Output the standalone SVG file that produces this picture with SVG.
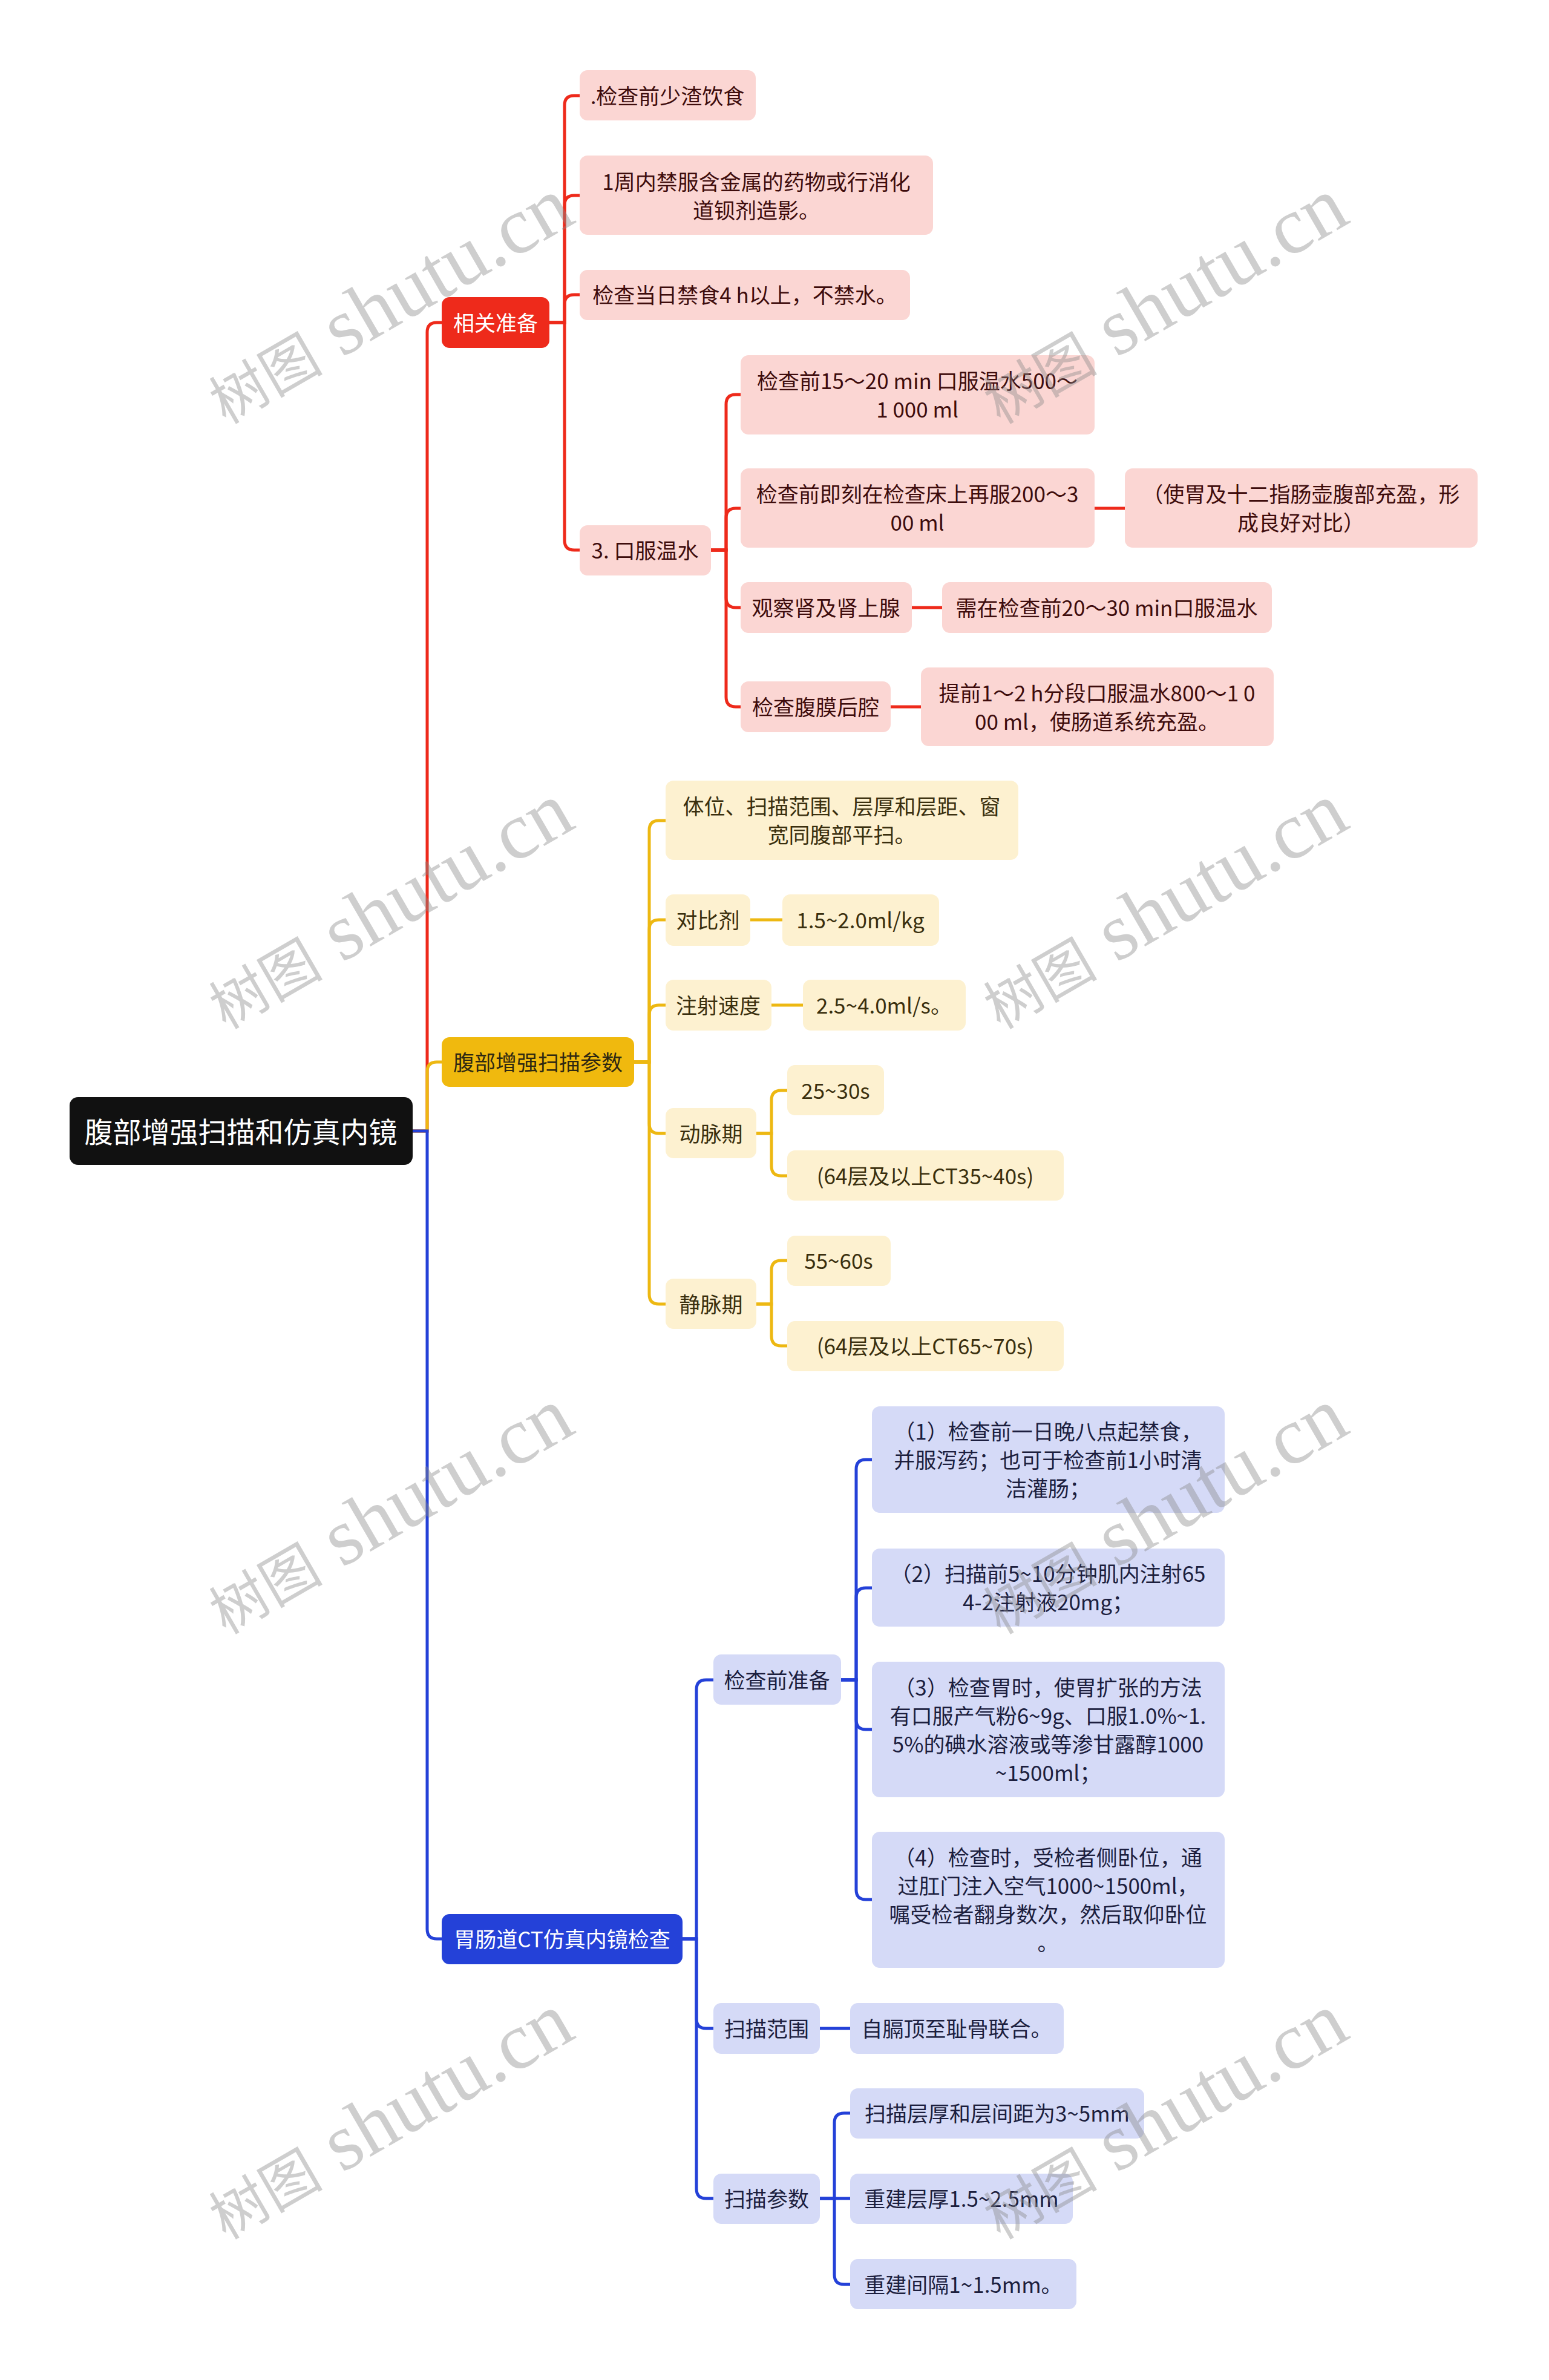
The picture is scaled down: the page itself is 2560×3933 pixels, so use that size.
<svg xmlns="http://www.w3.org/2000/svg" width="2560" height="3933" viewBox="0 0 2560 3933">
<style>
  text { font-family: "Noto Sans CJK SC", "Noto Sans", "Liberation Sans", sans-serif; font-size: 35px; text-anchor: middle; dominant-baseline: central; }
  .root rect { fill: #111111; }
  .root text { fill: #ffffff; font-size: 47px; }
  .r1 rect { fill: #EE2A1B; }
  .r1 text { fill: #ffffff; }
  .r2 rect { fill: #FBD6D3; }
  .r2 text { fill: #3E0C0C; }
  .y1 rect { fill: #F0B90E; }
  .y1 text { fill: #2E2812; }
  .y2 rect { fill: #FDF1D0; }
  .y2 text { fill: #3A2F0E; }
  .b1 rect { fill: #2441D8; }
  .b1 text { fill: #ffffff; }
  .b2 rect { fill: #D5DAF7; }
  .b2 text { fill: #1C1E3E; }
  .lr { fill: none; stroke: #EE2A1B; stroke-width: 5; }
  .ly { fill: none; stroke: #EDB812; stroke-width: 5; }
  .lb { fill: none; stroke: #2441D8; stroke-width: 5; }
  .wm { font-family: "Liberation Serif", "Noto Sans CJK SC", serif; fill: #8a8a8a; fill-opacity: 0.42; text-anchor: start; dominant-baseline: alphabetic; }
  .wm .cj { font-family: "Noto Sans CJK SC", sans-serif; font-size: 94px; }
  .wm .la { font-size: 134px; }
</style>
<rect width="2560" height="3933" fill="#ffffff"/>

<g id="connectors">
  <g>
    <path class="lr" d="M682,1869 H706 V549 Q706,533 722,533 H730"/>
    <path class="lr" d="M908,533 H933 V174 Q933,158 949,158 H958"/>
    <path class="lr" d="M908,533 H933 V339 Q933,323 949,323 H958"/>
    <path class="lr" d="M908,533 H933 V503 Q933,487 949,487 H958"/>
    <path class="lr" d="M908,533 H933 V893 Q933,909 949,909 H958"/>
    <path class="lr" d="M1175,909 H1200 V668 Q1200,652 1216,652 H1224"/>
    <path class="lr" d="M1175,909 H1200 V856 Q1200,840 1216,840 H1224"/>
    <path class="lr" d="M1175,909 H1200 V988 Q1200,1004 1216,1004 H1224"/>
    <path class="lr" d="M1175,909 H1200 V1152 Q1200,1168 1216,1168 H1224"/>
    <path class="lr" d="M1809,840 H1859"/>
    <path class="lr" d="M1507,1004 H1557"/>
    <path class="lr" d="M1472,1168 H1522"/>
  </g>
  <g>
    <path class="ly" d="M682,1869 H706 V1771 Q706,1755 722,1755 H730"/>
    <path class="ly" d="M1048,1755 H1073 V1372 Q1073,1356 1089,1356 H1100"/>
    <path class="ly" d="M1048,1755 H1073 V1536 Q1073,1520 1089,1520 H1100"/>
    <path class="ly" d="M1048,1755 H1073 V1677 Q1073,1661 1089,1661 H1100"/>
    <path class="ly" d="M1048,1755 H1073 V1857 Q1073,1873 1089,1873 H1100"/>
    <path class="ly" d="M1048,1755 H1073 V2139 Q1073,2155 1089,2155 H1100"/>
    <path class="ly" d="M1240,1520 H1293"/>
    <path class="ly" d="M1275,1661 H1327"/>
    <path class="ly" d="M1250,1873 H1275 V1818 Q1275,1802 1291,1802 H1301"/>
    <path class="ly" d="M1250,1873 H1275 V1927 Q1275,1943 1291,1943 H1301"/>
    <path class="ly" d="M1250,2155 H1275 V2099 Q1275,2083 1291,2083 H1301"/>
    <path class="ly" d="M1250,2155 H1275 V2208 Q1275,2224 1291,2224 H1301"/>
  </g>
  <g>
    <path class="lb" d="M682,1869 H706 V3188 Q706,3204 722,3204 H730"/>
    <path class="lb" d="M1128,3204 H1151 V2792 Q1151,2776 1167,2776 H1179"/>
    <path class="lb" d="M1128,3204 H1151 V3336 Q1151,3352 1167,3352 H1179"/>
    <path class="lb" d="M1128,3204 H1151 V3617 Q1151,3633 1167,3633 H1179"/>
    <path class="lb" d="M1390,2776 H1415 V2428 Q1415,2412 1431,2412 H1441"/>
    <path class="lb" d="M1390,2776 H1415 V2640 Q1415,2624 1431,2624 H1441"/>
    <path class="lb" d="M1390,2776 H1415 V2842 Q1415,2858 1431,2858 H1441"/>
    <path class="lb" d="M1390,2776 H1415 V3123 Q1415,3139 1431,3139 H1441"/>
    <path class="lb" d="M1355,3352 H1405"/>
    <path class="lb" d="M1355,3633 H1379 V3508 Q1379,3492 1395,3492 H1405"/>
    <path class="lb" d="M1355,3633 H1405"/>
    <path class="lb" d="M1355,3633 H1379 V3759 Q1379,3775 1395,3775 H1405"/>
  </g>
</g>

<g id="root" class="root"><rect x="115" y="1813" width="567" height="112" rx="14"/><text x="398" y="1867">腹部增强扫描和仿真内镜</text></g>

<g id="n-xgzb" class="r1"><rect x="730" y="491" width="178" height="84" rx="13"/><text x="819" y="531">相关准备</text></g>
<g id="n-r1" class="r2"><rect x="958" y="116" width="291" height="83" rx="13"/><text x="1103" y="156">.检查前少渣饮食</text></g>
<g id="n-r2" class="r2"><rect x="958" y="257" width="584" height="131" rx="13"/><text x="1250" y="298">1周内禁服含金属的药物或行消化</text><text x="1250" y="345">道钡剂造影。</text></g>
<g id="n-r3" class="r2"><rect x="958" y="446" width="546" height="83" rx="13"/><text x="1231" y="485">检查当日禁食4 h以上，不禁水。</text></g>
<g id="n-r4" class="r2"><rect x="958" y="868" width="217" height="83" rx="13"/><text x="1066" y="907">3. 口服温水</text></g>
<g id="n-r4a" class="r2"><rect x="1224" y="587" width="585" height="131" rx="13"/><text x="1516" y="627">检查前15～20 min 口服温水500～</text><text x="1516" y="674">1 000 ml</text></g>
<g id="n-r4b" class="r2"><rect x="1224" y="774" width="585" height="131" rx="13"/><text x="1516" y="814">检查前即刻在检查床上再服200～3</text><text x="1516" y="861">00 ml</text></g>
<g id="n-r4b2" class="r2"><rect x="1859" y="774" width="583" height="131" rx="13"/><text x="2150" y="814">（使胃及十二指肠壶腹部充盈，形</text><text x="2150" y="861">成良好对比）</text></g>
<g id="n-r4c" class="r2"><rect x="1224" y="962" width="283" height="84" rx="13"/><text x="1365" y="1002">观察肾及肾上腺</text></g>
<g id="n-r4c2" class="r2"><rect x="1557" y="962" width="545" height="84" rx="13"/><text x="1829" y="1002">需在检查前20～30 min口服温水</text></g>
<g id="n-r4d" class="r2"><rect x="1224" y="1126" width="248" height="84" rx="13"/><text x="1348" y="1166">检查腹膜后腔</text></g>
<g id="n-r4d2" class="r2"><rect x="1522" y="1103" width="583" height="130" rx="13"/><text x="1813" y="1143">提前1～2 h分段口服温水800～1 0</text><text x="1813" y="1190">00 ml，使肠道系统充盈。</text></g>

<g id="n-fbzq" class="y1"><rect x="730" y="1714" width="318" height="82" rx="13"/><text x="889" y="1753">腹部增强扫描参数</text></g>
<g id="n-y1" class="y2"><rect x="1100" y="1290" width="583" height="131" rx="13"/><text x="1391" y="1330">体位、扫描范围、层厚和层距、窗</text><text x="1391" y="1377">宽同腹部平扫。</text></g>
<g id="n-y2" class="y2"><rect x="1100" y="1478" width="140" height="85" rx="13"/><text x="1170" y="1518">对比剂</text></g>
<g id="n-y2a" class="y2"><rect x="1293" y="1478" width="259" height="85" rx="13"/><text x="1422" y="1518">1.5~2.0ml/kg</text></g>
<g id="n-y3" class="y2"><rect x="1100" y="1619" width="175" height="84" rx="13"/><text x="1187" y="1659">注射速度</text></g>
<g id="n-y3a" class="y2"><rect x="1327" y="1619" width="269" height="84" rx="13"/><text x="1461" y="1659">2.5~4.0ml/s。</text></g>
<g id="n-y4" class="y2"><rect x="1100" y="1831" width="150" height="83" rx="13"/><text x="1175" y="1871">动脉期</text></g>
<g id="n-y4a" class="y2"><rect x="1301" y="1760" width="160" height="83" rx="13"/><text x="1381" y="1800">25~30s</text></g>
<g id="n-y4b" class="y2"><rect x="1301" y="1901" width="457" height="83" rx="13"/><text x="1529" y="1941">(64层及以上CT35~40s)</text></g>
<g id="n-y5" class="y2"><rect x="1100" y="2113" width="150" height="83" rx="13"/><text x="1175" y="2153">静脉期</text></g>
<g id="n-y5a" class="y2"><rect x="1301" y="2042" width="171" height="83" rx="13"/><text x="1386" y="2081">55~60s</text></g>
<g id="n-y5b" class="y2"><rect x="1301" y="2183" width="457" height="83" rx="13"/><text x="1529" y="2222">(64层及以上CT65~70s)</text></g>

<g id="n-wcd" class="b1"><rect x="730" y="3163" width="398" height="83" rx="13"/><text x="929" y="3202">胃肠道CT仿真内镜检查</text></g>
<g id="n-b1" class="b2"><rect x="1179" y="2734" width="211" height="83" rx="13"/><text x="1284" y="2774">检查前准备</text></g>
<g id="n-b1i" class="b2"><rect x="1441" y="2324" width="583" height="176" rx="13"/><text x="1732" y="2363">（1）检查前一日晚八点起禁食，</text><text x="1732" y="2410">并服泻药；也可于检查前1小时清</text><text x="1732" y="2457">洁灌肠；</text></g>
<g id="n-b1ii" class="b2"><rect x="1441" y="2559" width="583" height="129" rx="13"/><text x="1732" y="2598">（2）扫描前5~10分钟肌内注射65</text><text x="1732" y="2645">4-2注射液20mg；</text></g>
<g id="n-b1iii" class="b2"><rect x="1441" y="2746" width="583" height="224" rx="13"/><text x="1732" y="2786">（3）检查胃时，使胃扩张的方法</text><text x="1732" y="2833">有口服产气粉6~9g、口服1.0%~1.</text><text x="1732" y="2880">5%的碘水溶液或等渗甘露醇1000</text><text x="1732" y="2927">~1500ml；</text></g>
<g id="n-b1iv" class="b2"><rect x="1441" y="3027" width="583" height="225" rx="13"/><text x="1732" y="3067">（4）检查时，受检者侧卧位，通</text><text x="1732" y="3114">过肛门注入空气1000~1500ml，</text><text x="1732" y="3161">嘱受检者翻身数次，然后取仰卧位</text><text x="1732" y="3208">。</text></g>
<g id="n-b2" class="b2"><rect x="1179" y="3310" width="176" height="84" rx="13"/><text x="1267" y="3350">扫描范围</text></g>
<g id="n-b2a" class="b2"><rect x="1405" y="3310" width="353" height="84" rx="13"/><text x="1581" y="3350">自膈顶至耻骨联合。</text></g>
<g id="n-b3" class="b2"><rect x="1179" y="3592" width="176" height="83" rx="13"/><text x="1267" y="3631">扫描参数</text></g>
<g id="n-b3a" class="b2"><rect x="1405" y="3451" width="486" height="83" rx="13"/><text x="1648" y="3490">扫描层厚和层间距为3~5mm</text></g>
<g id="n-b3b" class="b2"><rect x="1405" y="3592" width="368" height="83" rx="13"/><text x="1589" y="3631">重建层厚1.5~2.5mm</text></g>
<g id="n-b3c" class="b2"><rect x="1405" y="3733" width="374" height="83" rx="13"/><text x="1592" y="3773">重建间隔1~1.5mm。</text></g>

<g id="watermarks">
  <text class="wm" transform="translate(373,702) rotate(-30)"><tspan class="cj">树图</tspan><tspan class="la"> shutu.cn</tspan></text>
  <text class="wm" transform="translate(1653,702) rotate(-30)"><tspan class="cj">树图</tspan><tspan class="la"> shutu.cn</tspan></text>
  <text class="wm" transform="translate(373,1702) rotate(-30)"><tspan class="cj">树图</tspan><tspan class="la"> shutu.cn</tspan></text>
  <text class="wm" transform="translate(1653,1702) rotate(-30)"><tspan class="cj">树图</tspan><tspan class="la"> shutu.cn</tspan></text>
  <text class="wm" transform="translate(373,2702) rotate(-30)"><tspan class="cj">树图</tspan><tspan class="la"> shutu.cn</tspan></text>
  <text class="wm" transform="translate(1653,2702) rotate(-30)"><tspan class="cj">树图</tspan><tspan class="la"> shutu.cn</tspan></text>
  <text class="wm" transform="translate(373,3702) rotate(-30)"><tspan class="cj">树图</tspan><tspan class="la"> shutu.cn</tspan></text>
  <text class="wm" transform="translate(1653,3702) rotate(-30)"><tspan class="cj">树图</tspan><tspan class="la"> shutu.cn</tspan></text>
</g>
</svg>
